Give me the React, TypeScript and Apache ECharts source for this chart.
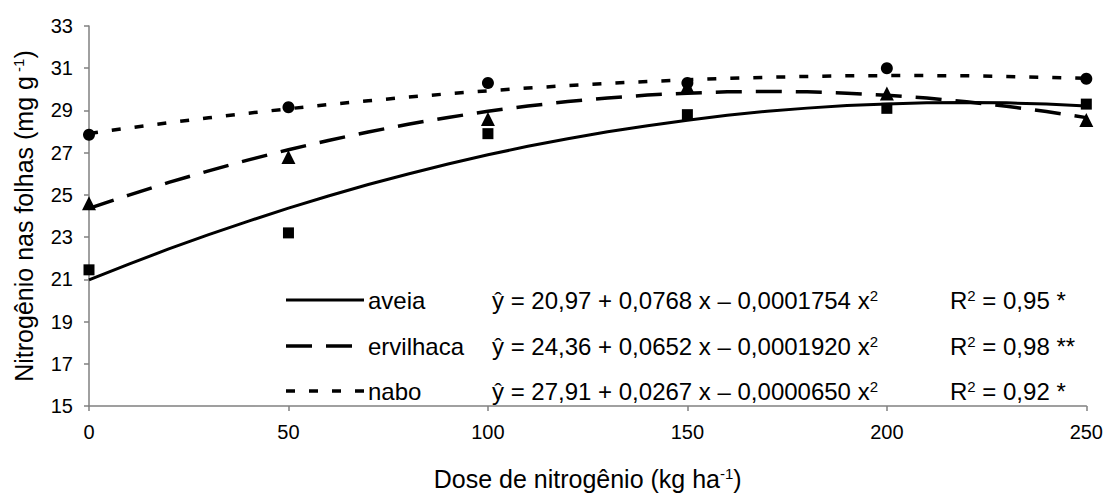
import React, { useEffect, useRef } from "react";
import * as echarts from "echarts";

const xTicks = [0, 50, 100, 150, 200, 250];
const curveX = [0, 10, 20, 30, 40, 50, 60, 70, 80, 90, 100, 110, 120, 130, 140, 150, 160, 170, 180, 190, 200, 210, 220, 230, 240, 250];
const aveiaCurve = [20.97, 21.72, 22.44, 23.12, 23.76, 24.37, 24.95, 25.49, 25.99, 26.46, 26.9, 27.3, 27.66, 27.99, 28.28, 28.54, 28.77, 28.96, 29.11, 29.23, 29.31, 29.36, 29.38, 29.36, 29.3, 29.21];
const ervilhacaCurve = [24.36, 24.99, 25.59, 26.14, 26.66, 27.14, 27.58, 27.98, 28.35, 28.67, 28.96, 29.21, 29.42, 29.59, 29.73, 29.82, 29.88, 29.9, 29.88, 29.82, 29.72, 29.59, 29.41, 29.2, 28.95, 28.66];
const naboCurve = [27.91, 28.17, 28.42, 28.65, 28.87, 29.08, 29.28, 29.46, 29.63, 29.79, 29.93, 30.06, 30.18, 30.28, 30.37, 30.45, 30.52, 30.57, 30.61, 30.64, 30.65, 30.65, 30.64, 30.61, 30.57, 30.52];
const aveiaObs = [21.45, 23.2, 27.9, 28.8, 29.1, 29.3];
const ervilhacaObs = [24.6, 26.8, 28.6, 30.15, 29.8, 28.55];
const naboObs = [27.85, 29.15, 30.3, 30.3, 31.0, 30.5];
const legendNames = ["aveia", "ervilhaca", "nabo"];
const equations = [
  "ŷ = 20,97 + 0,0768 x – 0,0001754 x{sup|2}",
  "ŷ = 24,36 + 0,0652 x – 0,0001920 x{sup|2}",
  "ŷ = 27,91 + 0,0267 x – 0,0000650 x{sup|2}",
];
const rSquared = ["R{sup|2} = 0,95 *", "R{sup|2} = 0,98 **", "R{sup|2} = 0,92 *"];

const FONT = "'Liberation Sans', Arial, sans-serif";
const dashes: any[] = ["solid", [26, 14], [9, 14]];
const widths = [3, 3.5, 3.5];
const symbols = ["rect", "triangle", "circle"];
const symbolSizes = [11, 14, 12];

export default function App() {
  const ref = useRef<HTMLDivElement>(null);
  useEffect(() => {
    document.body.style.margin = "0";
    if (!ref.current) return;
    const chart = echarts.init(ref.current, undefined, { renderer: "svg" });
    const curves = [aveiaCurve, ervilhacaCurve, naboCurve];
    const obs = [aveiaObs, ervilhacaObs, naboObs];
    const series: any[] = [];
    curves.forEach((c, i) => {
      series.push({
        type: "line",
        data: curveX.map((x, j) => [x, c[j]]),
        showSymbol: false,
        lineStyle: { color: "#000", width: widths[i], type: dashes[i] },
        z: 2,
      });
    });
    obs.forEach((o, i) => {
      series.push({
        type: "scatter",
        data: xTicks.map((x, j) => [x, o[j]]),
        symbol: symbols[i],
        symbolSize: symbolSizes[i],
        itemStyle: { color: "#000", opacity: 1 },
        z: 3,
      });
    });
    const richLegend = {
      sup: { fontSize: 15, fontFamily: FONT, color: "#000", padding: [0, 0, 10, 0] },
    };
    const richName = {
      sup: { fontSize: 15, fontFamily: FONT, color: "#000", padding: [0, 0, 10, 0] },
    };
    const graphics: any[] = [];
    const legY = [300, 346, 391];
    legY.forEach((y, i) => {
      graphics.push({
        type: "line",
        shape: { x1: 286, y1: y, x2: 364, y2: y },
        style: { stroke: "#000", lineWidth: widths[i], lineDash: i === 0 ? null : dashes[i] },
        z: 10,
      });
      graphics.push({
        type: "text",
        x: 368,
        y: y,
        style: { text: legendNames[i], fontSize: 24, fontFamily: FONT, fill: "#000", verticalAlign: "middle" },
        z: 10,
      });
      graphics.push({
        type: "text",
        x: 492,
        y: y,
        style: { text: equations[i], fontSize: 24, fontFamily: FONT, fill: "#000", verticalAlign: "middle", rich: richLegend },
        z: 10,
      });
      graphics.push({
        type: "text",
        x: 950,
        y: y,
        style: { text: rSquared[i], fontSize: 24, fontFamily: FONT, fill: "#000", verticalAlign: "middle", rich: richLegend },
        z: 10,
      });
    });
    chart.setOption({
      animation: false,
      grid: { left: 89, right: 19, top: 26, bottom: 88 },
      xAxis: {
        type: "value",
        min: 0,
        max: 250,
        interval: 50,
        name: "Dose de nitrogênio (kg ha{sup|-1})",
        nameLocation: "middle",
        nameGap: 60,
        nameTextStyle: { fontSize: 25, fontFamily: FONT, color: "#000", rich: richName },
        axisLine: { lineStyle: { color: "#808080", width: 1.5 } },
        axisTick: { show: true, length: 5, lineStyle: { color: "#808080", width: 1.5 } },
        axisLabel: { fontSize: 20, fontFamily: FONT, color: "#000", margin: 16 },
        splitLine: { show: false },
      },
      yAxis: {
        type: "value",
        min: 15,
        max: 33,
        interval: 2,
        name: "Nitrogênio nas folhas (mg g{sup| -1})",
        nameLocation: "middle",
        nameRotate: 90,
        nameGap: 53,
        nameTextStyle: { fontSize: 25, fontFamily: FONT, color: "#000", rich: richName },
        axisLine: { show: true, lineStyle: { color: "#808080", width: 1.5 } },
        axisTick: { show: true, length: 5, lineStyle: { color: "#808080", width: 1.5 } },
        axisLabel: { fontSize: 20, fontFamily: FONT, color: "#000", margin: 16 },
        splitLine: { show: false },
      },
      series,
      graphic: graphics,
    });
    return () => chart.dispose();
  }, []);
  return <div ref={ref} style={{ width: 1106, height: 496 }} />;
}
